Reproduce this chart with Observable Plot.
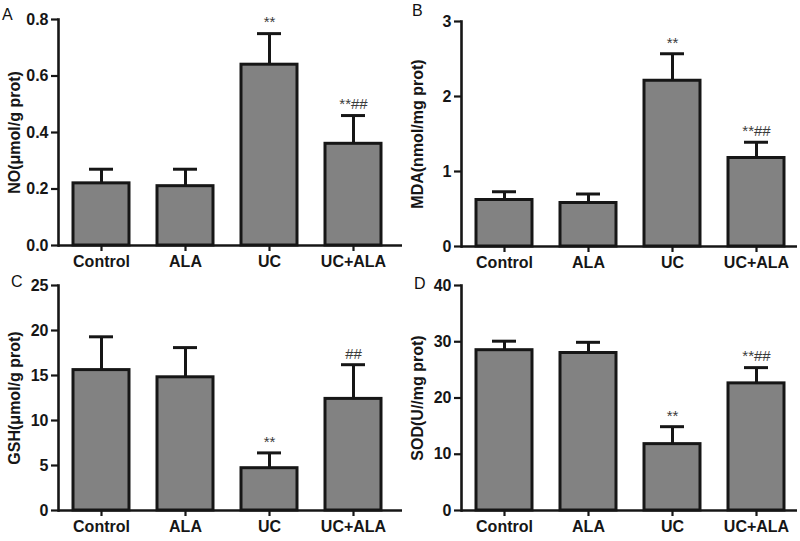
<!DOCTYPE html>
<html><head><meta charset="utf-8">
<script src="https://cdn.jsdelivr.net/npm/d3@7"></script>
<script src="https://cdn.jsdelivr.net/npm/@observablehq/plot@0.6"></script>
<style>
body{margin:0;background:#fff;}
#wrap{position:relative;width:800px;height:541px;overflow:hidden;font-family:"Liberation Sans",Arial,sans-serif;}
.panel{position:absolute;}
.letter{position:absolute;font-size:16px;line-height:1;color:#111;font-family:"Liberation Sans",Arial,sans-serif;}
</style></head><body><div id="wrap"></div>
<script>
const groups = ["Control", "ALA", "UC", "UC+ALA"];

const noMean = [0.22, 0.21, 0.64, 0.36];
const noSem = [0.05, 0.06, 0.11, 0.10];
const noMarks = ["", "", "**", "**##"];
const noTicks = [0, 0.2, 0.4, 0.6, 0.8];

const mdaMean = [0.62, 0.58, 2.21, 1.18];
const mdaSem = [0.11, 0.12, 0.36, 0.21];
const mdaMarks = ["", "", "**", "**##"];
const mdaTicks = [0, 1, 2, 3];

const gshMean = [15.6, 14.8, 4.7, 12.4];
const gshSem = [3.7, 3.3, 1.7, 3.8];
const gshMarks = ["", "", "**", "##"];
const gshTicks = [0, 5, 10, 15, 20, 25];

const sodMean = [28.5, 28.0, 11.8, 22.6];
const sodSem = [1.6, 1.9, 3.1, 2.8];
const sodMarks = ["", "", "**", "**##"];
const sodTicks = [0, 10, 20, 30, 40];

const panels = [
  {letter: "A", label: "NO(μmol/g prot)", mean: noMean, sem: noSem, marks: noMarks, ticks: noTicks, fmt: d3.format(".1f"),
   left: 0, top: 0, width: 405, height: 270, mL: 58, mT: 19, mB: 25, col: 0, lx: 2, ly: 7},
  {letter: "B", label: "MDA(nmol/mg prot)", mean: mdaMean, sem: mdaSem, marks: mdaMarks, ticks: mdaTicks, fmt: d3.format("d"),
   left: 400, top: 0, width: 400, height: 270, mL: 61, mT: 21, mB: 24, col: 1, lx: 412, ly: 3},
  {letter: "C", label: "GSH(μmol/g prot)", mean: gshMean, sem: gshSem, marks: gshMarks, ticks: gshTicks, fmt: d3.format("d"),
   left: 0, top: 270, width: 405, height: 271, mL: 58, mT: 15, mB: 31, col: 0, lx: 11, ly: 274},
  {letter: "D", label: "SOD(U//mg prot)", mean: sodMean, sem: sodSem, marks: sodMarks, ticks: sodTicks, fmt: d3.format("d"),
   left: 400, top: 270, width: 400, height: 271, mL: 61, mT: 15, mB: 31, col: 1, lx: 414, ly: 276}
];

const wrap = document.getElementById("wrap");
const ink = "#161616";

for (const p of panels) {
  const data = groups.map((g, i) => ({group: g, mean: p.mean[i], top: p.mean[i] + p.sem[i], mark: p.marks[i]}));
  const xOpts = p.col === 0
    ? {domain: groups, paddingInner: 0.336, paddingOuter: 0.208, align: 0.41, label: null}
    : {domain: groups, paddingInner: 0.336, paddingOuter: 0.16, align: 0.54, label: null};
  const chart = Plot.plot({
    width: p.width,
    height: p.height,
    marginLeft: p.mL,
    marginRight: 3,
    marginTop: p.mT,
    marginBottom: p.mB,
    style: {fontFamily: "'Liberation Sans', Arial, sans-serif", fontSize: "16px", fontWeight: "bold", color: ink, background: "white"},
    x: xOpts,
    y: {domain: [0, p.ticks[p.ticks.length - 1]], label: p.label},
    marks: [
      Plot.ruleX(data, {x: "group", y1: "mean", y2: "top", stroke: ink, strokeWidth: 3}),
      Plot.tickY(data, {x: "group", y: "top", stroke: ink, strokeWidth: 3, inset: 16}),
      Plot.barY(data, {x: "group", y: "mean", fill: "#828282", stroke: ink, strokeWidth: 3}),
      Plot.text(data, {x: "group", y: "top", text: "mark", dy: -11, fontSize: 15, fontWeight: "normal", fill: "#3a3a3a"}),
      Plot.axisY({ticks: p.ticks, tickFormat: p.fmt, tickSize: 7, tickPadding: 3, strokeWidth: 2.2,
                  label: p.label, labelAnchor: "center", labelArrow: "none", labelOffset: 50}),
      Plot.axisX({tickSize: 6, tickPadding: 4, strokeWidth: 2.2, label: null}),
      Plot.frame({anchor: "left", stroke: ink, strokeWidth: 2.6}),
      Plot.ruleY([0], {stroke: ink, strokeWidth: 2.6})
    ]
  });
  chart.classList.add("panel");
  chart.style.left = p.left + "px";
  chart.style.top = p.top + "px";
  chart.style.background = "transparent";
  wrap.appendChild(chart);
  const lt = document.createElement("div");
  lt.className = "letter";
  lt.textContent = p.letter;
  lt.style.left = p.lx + "px";
  lt.style.top = p.ly + "px";
  wrap.appendChild(lt);
}
</script></body></html>
